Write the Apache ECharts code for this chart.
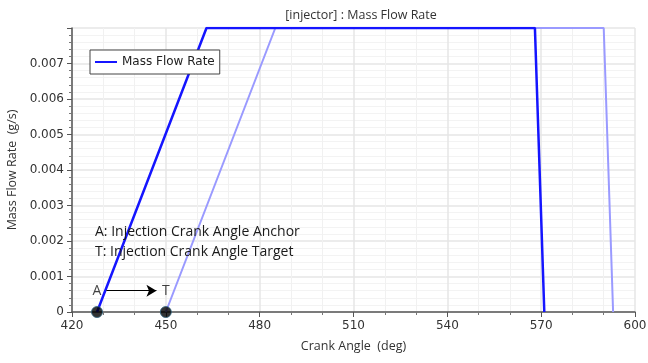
<!DOCTYPE html>
<html><head><meta charset="utf-8">
<script src="https://cdn.jsdelivr.net/npm/echarts@6/dist/echarts.min.js"></script>
<style>html,body{margin:0;padding:0;background:#fff}#c{width:648px;height:363px}</style>
</head><body><div id="c"></div>
<script>
// Data
const anchorSeries = [[428, 0], [463, 0.008], [568, 0.008], [571, 0]];
const targetSeries = [[450, 0], [485, 0.008], [590, 0.008], [593, 0]];
const markerPoints = [[428, 0, 'A'], [450, 0, 'T']];
const arrowFromTo = [[431, 0.0006], [447, 0.0006]];
const annotationLines = ['A: Injection Crank Angle Anchor', 'T: Injection Crank Angle Target'];
const titleText = '[injector] : Mass Flow Rate';
const xName = 'Crank Angle  (deg)';
const yName = 'Mass Flow Rate  (g/s)';

const chart = echarts.init(document.getElementById('c'));
const lblFont = {fontFamily: 'DejaVu Sans', fontSize: 12, color: '#333'};
chart.setOption({
  animation: false,
  backgroundColor: '#fff',
  title: {text: titleText, left: 356, top: 4, textAlign: 'center',
    textStyle: {fontFamily: 'Open Sans', fontSize: 12.5, fontWeight: 'normal', color: '#333'}},
  grid: {left: 72, right: 13, top: 28, bottom: 51, containLabel: false, outerBoundsMode: 'none'},
  legend: {data: ['Mass Flow Rate'], left: 90, top: 50, orient: 'vertical',
    borderColor: '#444', borderWidth: 1, backgroundColor: '#fff', padding: [6, 5, 6, 5],
    itemWidth: 22, itemHeight: 10, itemGap: 4, icon: 'path://M0,4L22,4L22,6L0,6Z',
    textStyle: {fontFamily: 'DejaVu Sans', fontSize: 12, color: '#222'}},
  xAxis: {type: 'value', min: 420, max: 600, interval: 30,
    name: xName, nameLocation: 'middle', nameGap: 28,
    nameTextStyle: {fontFamily: 'Open Sans', fontSize: 12.5, color: '#333'},
    axisLine: {show: true, lineStyle: {color: '#555', width: 1.5}},
    axisTick: {show: true, length: 5, lineStyle: {color: '#555'}},
    minorTick: {show: true, splitNumber: 3, length: 3, lineStyle: {color: '#777'}},
    axisLabel: Object.assign({margin: 8}, lblFont),
    splitLine: {show: true, lineStyle: {color: '#e6e6e6', width: 1.5}},
    minorSplitLine: {show: true, lineStyle: {color: '#f1f1f1'}}},
  yAxis: {type: 'value', min: 0, max: 0.008, interval: 0.001,
    name: yName, nameLocation: 'middle', nameGap: 52,
    nameTextStyle: {fontFamily: 'Open Sans', fontSize: 12.5, color: '#333'},
    axisLine: {show: true, lineStyle: {color: '#555', width: 1.5}},
    axisTick: {show: true, length: 5, lineStyle: {color: '#555'}},
    minorTick: {show: true, splitNumber: 5, length: 3, lineStyle: {color: '#777'}},
    axisLabel: Object.assign({margin: 8, showMaxLabel: false,
      formatter: v => v === 0 ? '0' : v.toFixed(3)}, lblFont),
    splitLine: {show: true, lineStyle: {color: '#e6e6e6', width: 1.5}},
    minorSplitLine: {show: true, lineStyle: {color: '#f3f3f3'}}},
  graphic: [
    {type: 'text', left: 95, top: 222, z: 100, style: {text: annotationLines.join('\n'),
      font: '14px "Open Sans"', fill: '#1a1a1a', lineHeight: 20}}
  ],
  series: [
    {name: 'Target', type: 'line', data: targetSeries, symbol: 'none',
      lineStyle: {color: '#9a9aff', width: 2}, z: 2},
    {name: 'Mass Flow Rate', type: 'line', data: anchorSeries, symbol: 'none',
      color: '#1515ff', lineStyle: {color: '#1515ff', width: 2.5}, z: 3,
      markLine: {silent: true, symbol: ['none', 'arrow'], symbolSize: [9, 10],
        label: {show: false},
        lineStyle: {color: '#000', width: 1, type: 'solid'},
        data: [[{coord: arrowFromTo[0]}, {coord: arrowFromTo[1]}]]}},
    {name: 'Markers', type: 'scatter', data: markerPoints, symbolSize: 11, z: 5,
      itemStyle: {color: '#000', borderColor: '#2a5f7a', borderWidth: 1},
      label: {show: true, position: 'top', distance: 8, formatter: p => p.data[2],
        fontFamily: 'Open Sans', fontSize: 14, color: '#111'}}
  ]
});
</script></body></html>
